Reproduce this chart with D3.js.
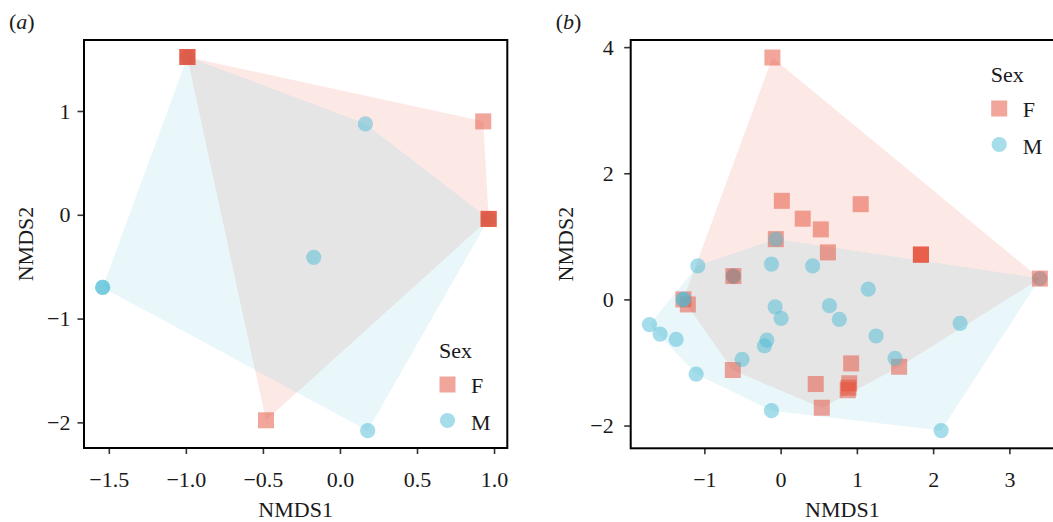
<!DOCTYPE html>
<html>
<head>
<meta charset="utf-8">
<script src="https://cdn.jsdelivr.net/npm/d3@7"></script>
<style>
body { margin: 0; background: #fff; }
text { font-family: "Liberation Serif", "Times New Roman", serif; }
</style>
</head>
<body>
<svg id="chart" width="1053" height="522"></svg>
<script>
var sexes = ["F", "M"]
var sex_colors = ["#E64B35", "#4DBBD5"]
var overlap_fill = "#e5e5e5"

// panel (a) ordination scores
var a_F = [[-0.99, 1.52], [-0.99, 1.52], [-0.99, 1.52], [0.93, 0.90], [0.965, -0.04], [0.965, -0.04], [0.965, -0.04], [-0.48, -1.98]]
var a_M_under = [[-0.99, 1.52], [0.965, -0.04]]   // males hidden beneath female squares
var a_M = [[0.165, 0.875], [-0.17, -0.41], [-1.54, -0.70], [-1.54, -0.70], [0.18, -2.08]]
var a_xticks = [-1.5, -1.0, -0.5, 0.0, 0.5, 1.0]
var a_yticks = [-2, -1, 0, 1]

// panel (b) ordination scores
var b_F = [[-0.108, 3.835], [0.016, 1.563], [0.29, 1.28], [0.527, 1.11], [1.05, 1.51], [-0.063, 0.955],
    [0.62, 0.745], [1.84, 0.71], [1.84, 0.71], [1.84, 0.71], [3.40, 0.33], [-0.62, 0.37],
    [-1.275, 0.0], [-1.217, -0.08], [1.554, -1.068], [0.925, -1.015], [-0.627, -1.12],
    [0.46, -1.342], [0.90, -1.33], [0.89, -1.40], [0.88, -1.44], [0.54, -1.718]]
var b_M_under = [[3.40, 0.33], [-0.62, 0.37], [-0.62, 0.37]]
var b_M = [[-1.086, 0.533], [-0.12, 0.56], [0.42, 0.53], [-0.063, 0.955],
    [-1.275, 0.0], [-1.275, 0.0], [1.15, 0.163], [-0.072, -0.117], [0.007, -0.30], [0.64, -0.10],
    [0.77, -0.317], [2.354, -0.38], [-1.72, -0.40], [-1.58, -0.55], [-1.37, -0.634], [-0.18, -0.645],
    [-0.212, -0.735], [1.252, -0.58], [-0.505, -0.95], [1.50, -0.935], [-1.108, -1.184],
    [-0.12, -1.765], [2.105, -2.08]]
var b_xticks = [-1, 0, 1, 2, 3]
var b_yticks = [-2, 0, 2, 4]

var svg = d3.select("#chart")

draw_panel({
    label: "a", left: 84, top: 40, w: 423.3, h: 408,
    xdom: [-1.661, 1.086], ydom: [-2.247, 1.684],
    xticks: a_xticks, yticks: a_yticks, xfmt: d3.format(".1f"), ypad: 7,
    F: a_F, M: a_M, M_under: a_M_under,
    legend: [355, 318], ytitle_x: 33
})

draw_panel({
    label: "b", left: 630.7, top: 40, w: 423.3, h: 408.3,
    xdom: [-1.966, 3.585], ydom: [-2.361, 4.113],
    xticks: b_xticks, yticks: b_yticks, xfmt: d3.format("d"), ypad: 10.5,
    F: b_F, M: b_M, M_under: b_M_under,
    legend: [360, 42], ytitle_x: 573
})

function draw_panel(p) {
    var x = d3.scaleLinear().domain(p.xdom).range([0, p.w])
    var y = d3.scaleLinear().domain(p.ydom).range([p.h, 0])
    var g = svg.append("g").attr("transform", "translate(" + p.left + "," + p.top + ")")

    function hull_path(pts) {
        var h = d3.polygonHull(pts.map(function(d) { return [x(d[0]), y(d[1])] }))
        return "M" + h.join("L") + "Z"
    }
    var hullF = hull_path(p.F)
    var hullM = hull_path(p.M.concat(p.M_under))

    // hulls, with the shared area in grey
    g.append("path").attr("d", hullF)
        .style("fill", sex_colors[0]).style("fill-opacity", 0.12)
    g.append("path").attr("d", hullM)
        .style("fill", sex_colors[1]).style("fill-opacity", 0.12)
    g.append("clipPath").attr("id", "clipM_" + p.label)
        .append("path").attr("d", hullM)
    g.append("path").attr("d", hullF)
        .attr("clip-path", "url(#clipM_" + p.label + ")")
        .style("fill", overlap_fill)

    // points
    function circles(data, cls) {
        g.selectAll("." + cls).data(data).enter()
            .append("circle")
            .attr("class", cls)
            .attr("cx", function(d) { return x(d[0]) })
            .attr("cy", function(d) { return y(d[1]) })
            .attr("r", 7.6)
            .style("fill", sex_colors[1])
            .style("fill-opacity", 0.5)
    }
    circles(p.M_under, "pt_Mu")

    g.selectAll(".pt_F").data(p.F).enter()
        .append("rect")
        .attr("class", "pt_F")
        .attr("x", function(d) { return x(d[0]) - 8 })
        .attr("y", function(d) { return y(d[1]) - 8 })
        .attr("width", 16)
        .attr("height", 16)
        .style("fill", sex_colors[0])
        .style("fill-opacity", 0.5)

    circles(p.M, "pt_M")

    // axes
    var xa = g.append("g").attr("transform", "translate(0," + p.h + ")")
        .call(d3.axisBottom(x).tickValues(p.xticks).tickFormat(p.xfmt).tickSize(6))
    xa.selectAll("text").attr("y", 39).attr("dy", null)
    var ya = g.append("g")
        .call(d3.axisLeft(y).tickValues(p.yticks).tickFormat(d3.format("d")).tickSize(6.5).tickPadding(p.ypad))
    ;[xa, ya].forEach(function(a) {
        a.select(".domain").remove()
        a.selectAll("line").style("stroke", "#333").style("stroke-width", 1.6)
        a.selectAll("text").style("font-size", "22px").style("fill", "#1a1a1a")
            .style("font-family", "'Liberation Serif', serif")
    })

    g.append("rect")
        .attr("width", p.w).attr("height", p.h)
        .style("fill", "none").style("stroke", "#000").style("stroke-width", 2)

    // titles
    g.append("text")
        .attr("x", p.w / 2).attr("y", 517 - p.top)
        .attr("text-anchor", "middle")
        .style("font-size", "22px").style("fill", "#1a1a1a")
        .text("NMDS1")
    svg.append("text")
        .attr("transform", "translate(" + p.ytitle_x + "," + (p.top + p.h / 2) + ") rotate(-90)")
        .attr("text-anchor", "middle")
        .style("font-size", "22px").style("fill", "#1a1a1a")
        .text("NMDS2")
    var lab = svg.append("text")
        .attr("x", p.left - 75).attr("y", 29)
        .style("font-size", "22px").style("fill", "#1a1a1a")
    lab.append("tspan").text("(")
    lab.append("tspan").style("font-style", "italic").text(p.label)
    lab.append("tspan").text(")")

    // legend
    var lg = g.append("g").attr("transform", "translate(" + p.legend[0] + "," + p.legend[1] + ")")
    lg.append("text").attr("x", 0).attr("y", 0)
        .style("font-size", "22px").style("fill", "#1a1a1a").text("Sex")
    lg.append("rect").attr("x", 0.5).attr("y", 18.5).attr("width", 16).attr("height", 16)
        .style("fill", sex_colors[0]).style("fill-opacity", 0.5)
    lg.append("circle").attr("cx", 8.5).attr("cy", 62.5).attr("r", 7.6)
        .style("fill", sex_colors[1]).style("fill-opacity", 0.5)
    sexes.forEach(function(s, i) {
        lg.append("text").attr("x", 32).attr("y", 35 + i * 36.5)
            .style("font-size", "22px").style("fill", "#1a1a1a").text(s)
    })
}
</script>
</body>
</html>
